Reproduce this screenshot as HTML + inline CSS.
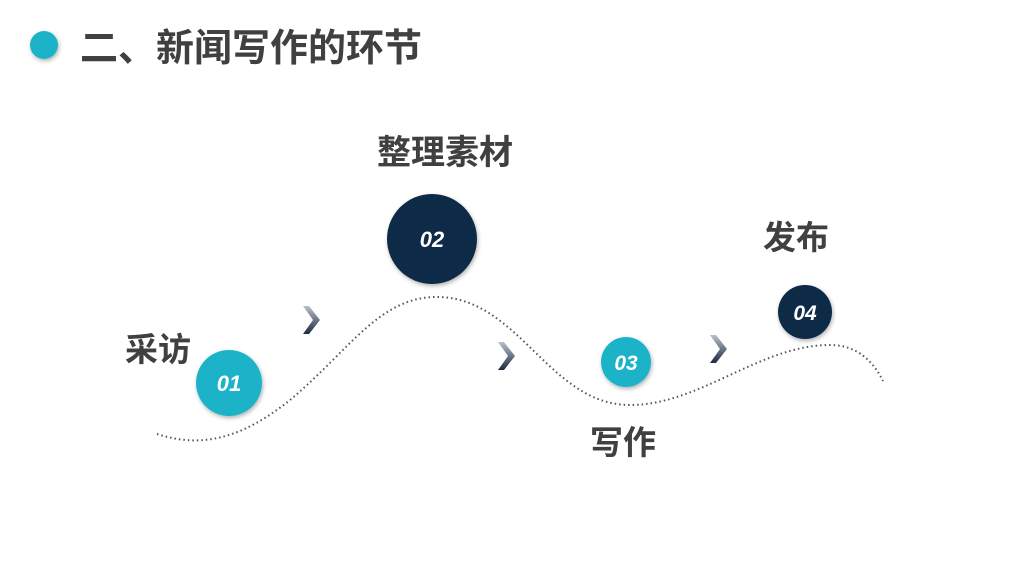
<!DOCTYPE html>
<html><head><meta charset="utf-8"><style>
body{margin:0;width:1024px;height:576px;background:#fff;overflow:hidden;position:relative;font-family:"Liberation Sans","Noto Sans CJK SC",sans-serif}
.t{position:absolute;color:#404040;font-weight:bold;white-space:nowrap}
</style></head><body>
<svg width="1024" height="576" style="position:absolute;left:0;top:0">
<defs>
<filter id="sh" x="-30%" y="-30%" width="160%" height="160%"><feDropShadow dx="1" dy="2" stdDeviation="2" flood-color="#000" flood-opacity="0.3"/></filter>
<linearGradient id="cg" x1="0" y1="0" x2="0" y2="1"><stop offset="0" stop-color="#b8c0cc"/><stop offset="1" stop-color="#1e2c40"/></linearGradient>
</defs>
<circle cx="44" cy="45" r="14" fill="#1ab3c9" filter="url(#sh)"/>
<path d="M157,434 C200,448 240,440 290,400 C350,350 380,295 440,297 C520,300 550,405 630,405 C700,405 760,345 830,345 C860,345 875,365 883,381" fill="none" stroke="#555" stroke-width="2" stroke-dasharray="1.5 3"/>
<g fill="url(#cg)">
<path d="M303,306 L309,306 L320,320 L309,334 L303,334 L313,320Z"/>
<path d="M498,342 L504,342 L515,356 L504,370 L498,370 L508,356Z"/>
<path d="M710,335 L716,335 L727,349 L716,363 L710,363 L720,349Z"/>
</g>
<circle cx="229" cy="383" r="33" fill="#1ab3c9" filter="url(#sh)"/>
<circle cx="432" cy="239" r="45" fill="#0d2a47" filter="url(#sh)"/>
<circle cx="626" cy="362" r="25" fill="#1ab3c9" filter="url(#sh)"/>
<circle cx="805" cy="312" r="27" fill="#0d2a47" filter="url(#sh)"/>
<g font-family="Liberation Sans" font-weight="bold" font-style="italic" fill="#fff" text-anchor="middle">
<text x="229" y="391" font-size="22">01</text>
<text x="432" y="247" font-size="22">02</text>
<text x="626" y="370" font-size="21">03</text>
<text x="805" y="320" font-size="21">04</text>
</g>
</svg>
<div class="t" style="left:80px;top:17px;font-size:38px">二、新闻写作的环节</div>
<div class="t" style="left:125px;top:323px;font-size:33px">采访</div>
<div class="t" style="left:377px;top:125px;font-size:34px">整理素材</div>
<div class="t" style="left:763px;top:211px;font-size:33px">发布</div>
<div class="t" style="left:590px;top:416px;font-size:33px">写作</div>
</body></html>
